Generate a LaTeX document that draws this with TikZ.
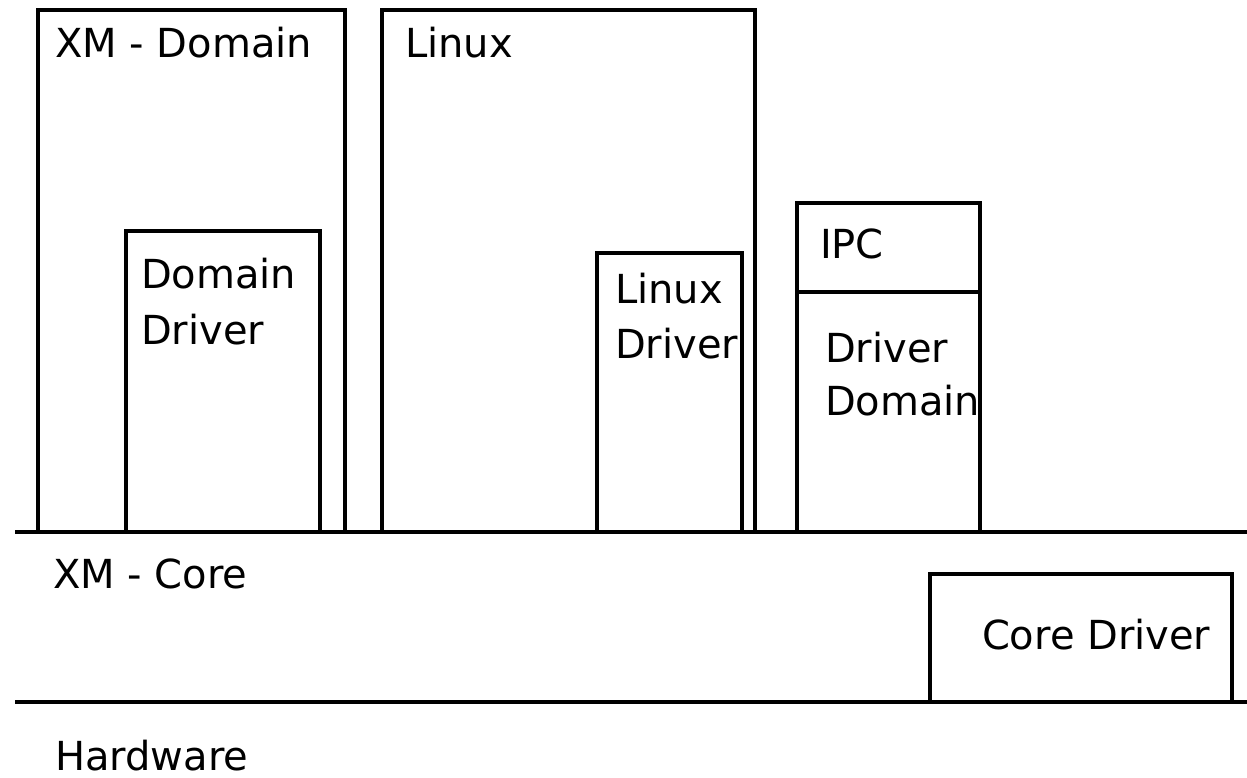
\documentclass[tikz,border=0pt]{standalone}
\usepackage{fontspec}
\setmainfont{DejaVu Sans}
\begin{document}
\begin{tikzpicture}[x=0.5pt,y=-0.5pt,
  lbl/.style={anchor=base west,inner sep=0pt,outer sep=0pt,font=\fontsize{20pt}{24pt}\selectfont},
  blk/.style={draw,line width=2.3pt,anchor=north west,inner sep=0pt,outer sep=0pt,rectangle},
  rule/.style={line width=2.3pt}]
\useasboundingbox (0,0) rectangle (1247,777);
% labels
\node[lbl] (t1) at (55,57) {XM - Domain};
\node[lbl] (t2) at (405,57) {Linux};
\node[lbl] (t3) at (141,288) {Domain};
\node[lbl] (t4) at (141,344) {Driver};
\node[lbl] (t5) at (615,303) {Linux};
\node[lbl] (t6) at (615,358) {Driver};
\node[lbl] (t7) at (820,258) {IPC};
\node[lbl] (t8) at (825,362) {Driver};
\node[lbl] (t9) at (825,415) {Domain};
\node[lbl] (t10) at (53,588) {XM - Core};
\node[lbl] (t11) at (982,649) {Core Driver};
\node[lbl] (t12) at (55,770) {Hardware};
% boxes
\node[blk,minimum width=153.5pt,minimum height=261pt] (xmdom) at (38,10) {};
\node[blk,minimum width=97pt,minimum height=150.5pt] (domdrv) at (126,231) {};
\node[blk,minimum width=186.5pt,minimum height=261pt] (linux) at (382,10) {};
\node[blk,minimum width=72.5pt,minimum height=139.5pt] (linuxdrv) at (597,253) {};
\node[blk,minimum width=91.5pt,minimum height=44.5pt] (ipc) at (797,203) {};
\node[blk,minimum width=91.5pt,minimum height=120pt] (drvdom) at (797,292) {};
\node[blk,minimum width=151pt,minimum height=64pt] (coredrv) at (930,574) {};
% layer lines
\coordinate (l1a) at (15,532);
\coordinate (l1b) at (1247,532);
\coordinate (l2a) at (15,702);
\coordinate (l2b) at (1247,702);
\draw[rule] (l1a) -- (l1b);
\draw[rule] (l2a) -- (l2b);
\end{tikzpicture}
\end{document}
